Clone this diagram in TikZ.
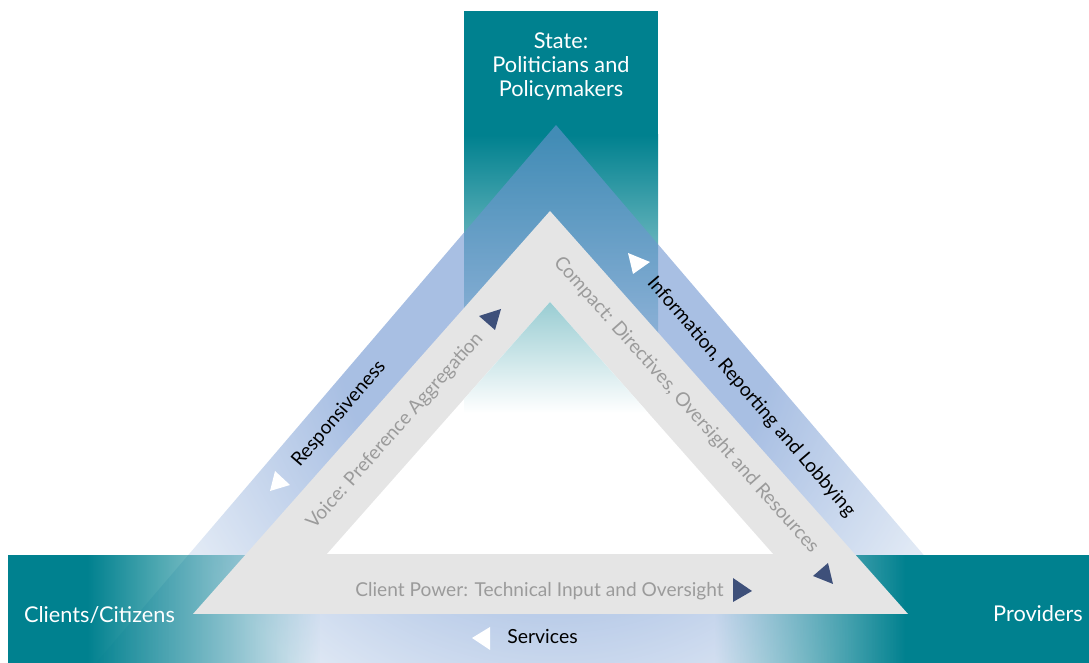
\documentclass[tikz,border=0pt]{standalone}
\usepackage{fontspec}
\setmainfont{Lato}
\usetikzlibrary{fadings}
\definecolor{tealc}{RGB}{0,129,143}
\definecolor{greyband}{RGB}{229,229,229}
\definecolor{greytext}{RGB}{155,155,155}
\definecolor{navy}{RGB}{62,80,122}
\definecolor{bIn}{RGB}{110,148,208}
\definecolor{bOut}{RGB}{205,219,238}
\pgfdeclareradialshading{bluerad}{\pgfpoint{0bp}{0bp}}{color(0bp)=(bIn); color(8.8bp)=(bIn); color(17bp)=(bOut); color(50bp)=(bOut)}
\tikzfading[name=fadeR, left color=transparent!0, right color=transparent!100]
\tikzfading[name=fadeL, left color=transparent!100, right color=transparent!0]
\tikzset{
  bigtxt/.style={text=white, inner sep=0pt, font=\fontsize{21.8}{24}\selectfont},
  flowtxt/.style={text=black, inner sep=0pt, font=\fontsize{19.3}{22}\selectfont},
  bandtxt/.style={text=greytext, inner sep=0pt, font=\fontsize{19.2}{22}\selectfont},
  whitetip/.style={fill=white},
  navytip/.style={fill=navy},
}
\begin{document}
\begin{tikzpicture}[x=1bp,y=1bp]
\useasboundingbox (0,0) rectangle (1089,663);
% top actor box
\fill[tealc] (464,527) rectangle (658,652);
\shade[top color=tealc, bottom color=white] (464,250) rectangle (658,528);
% outer blue triangle
\begin{scope}
  \clip (556,538) -- (87.4,-10) -- (1024.6,-10) -- cycle;
  \shade[shading=bluerad, fill opacity=0.6] (556,333) circle (620);
\end{scope}
% bottom actor band
\fill[tealc] (8,0) rectangle (88,108);
\fill[tealc, path fading=fadeR] (87.5,0) rectangle (320,108);
\fill[tealc, path fading=fadeL] (715,0) rectangle (905.5,108);
\fill[tealc] (905,0) rectangle (1089,108);
% grey triangle band
\fill[greyband] (550,452) -- (193,49) -- (908,49) -- cycle;
\begin{scope}
  \clip (550,361) -- (327,109) -- (773,109) -- cycle;
  \fill[white] (0,0) rectangle (1089,663);
  \shade[top color=tealc, bottom color=white] (464,250) rectangle (658,528);
\end{scope}
% actor labels
\node[bigtxt, anchor=north, align=center] (state) at (561,630) {State:\\Politicians and\\Policymakers};
\node[bigtxt, anchor=base] (clients) at (99.5,40) {Clients/Citizens};
\node[bigtxt, anchor=base] (providers) at (1038,41) {Providers};
% flow labels
\node[flowtxt, rotate=49.4] (resp) at (339,249) {Responsiveness};
\node[flowtxt, rotate=-49.4] (info) at (751,266) {Information, Reporting and Lobbying};
\node[flowtxt, anchor=base, font=\fontsize{19.5}{22}\selectfont] (serv) at (542.5,19) {Services};
\node[bandtxt, rotate=48.4] (voice) at (395,232) {Voice: Preference Aggregation};
\node[bandtxt, rotate=-48.4] (compact) at (686,258) {Compact: Directives, Oversight and Resources};
\node[bandtxt, anchor=base] (cpower) at (539.5,66) {Client Power: Technical Input and Oversight};
% direction marks
\fill[whitetip] (628,410) -- (650,401) -- (633,389) -- cycle;
\fill[whitetip] (270,172) -- (275,192) -- (290,178) -- cycle;
\fill[whitetip] (472,25) -- (490,36) -- (490,13) -- cycle;
\fill[navytip] (479,347) -- (501,354) -- (495,333) -- cycle;
\fill[navytip] (813,87) -- (828,100) -- (833,79) -- cycle;
\fill[navytip] (733,85) -- (733,61) -- (752,72) -- cycle;
\end{tikzpicture}
\end{document}
